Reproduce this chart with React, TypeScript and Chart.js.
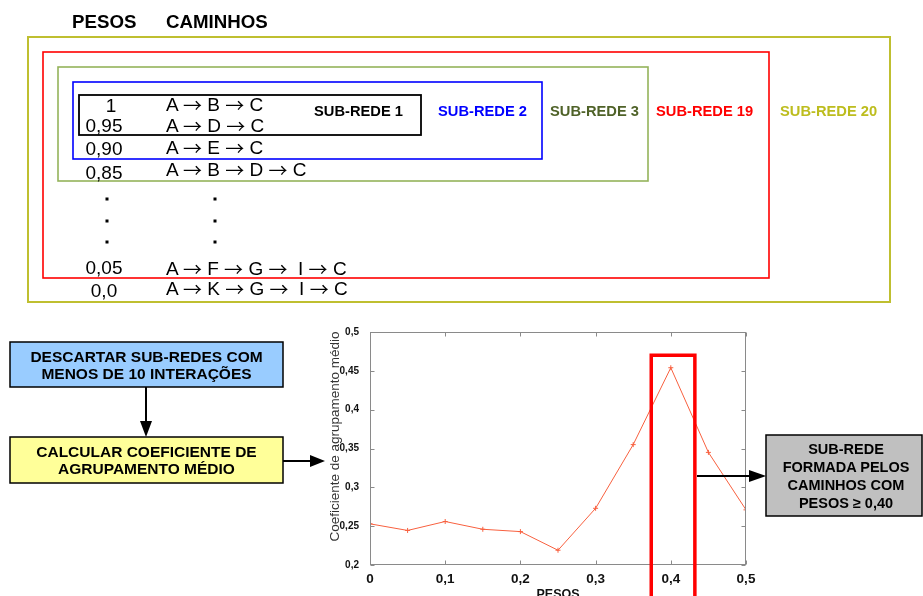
import React, { useEffect, useRef } from 'react';
import { Chart, registerables } from 'chart.js';

Chart.register(...registerables);

// ---------- data ----------
const pesos = [0, 0.05, 0.1, 0.15, 0.2, 0.25, 0.3, 0.35, 0.4, 0.45, 0.5];
const coeficiente = [0.253, 0.2445, 0.256, 0.246, 0.243, 0.219, 0.273, 0.355, 0.454, 0.345, 0.271];
const yMin = 0.2;
const yMax = 0.5;
const yStep = 0.05;
const xMin = 0;
const xMax = 0.5;
const xStep = 0.1;
const highlightFrom = 0.374;
const highlightTo = 0.432;
const highlightTop = 0.47;

const rowWeights = ['1', '0,95', '0,90', '0,85', '0,05', '0,0'];
const rowPaths = [
  'A \u2192 B \u2192 C',
  'A \u2192 D \u2192 C',
  'A \u2192 E \u2192 C',
  'A \u2192 B \u2192 D \u2192 C',
  'A \u2192 F \u2192 G \u2192  I \u2192 C',
  'A \u2192 K \u2192 G \u2192  I \u2192 C',
];
const subRedeLabels = ['SUB-REDE 1', 'SUB-REDE 2', 'SUB-REDE 3', 'SUB-REDE 19', 'SUB-REDE 20'];

const FONT = '"Liberation Sans", Arial, sans-serif';
const ARROW_FONT = '"Noto Sans CJK JP", "DejaVu Sans", sans-serif';

const fmt = (v: number) => String(Number(Number(v).toFixed(2))).replace('.', ',');

const framePlugin = {
  id: 'frame',
  afterDraw(chart: any) {
    const { ctx, chartArea: a, scales } = chart;
    const x = scales.x;
    const y = scales.y;
    ctx.save();
    ctx.strokeStyle = '#8a8a8a';
    ctx.lineWidth = 1;
    const L = Math.round(a.left) + 0.5;
    const R = Math.round(a.right) - 0.5;
    const T = Math.round(a.top) + 0.5;
    const B = Math.round(a.bottom) - 0.5;
    ctx.strokeRect(L, T, R - L, B - T);
    ctx.beginPath();
    y.ticks.forEach((t: any) => {
      const py = Math.round(y.getPixelForValue(t.value)) + 0.5;
      ctx.moveTo(L, py); ctx.lineTo(L + 4, py);
      ctx.moveTo(R, py); ctx.lineTo(R - 4, py);
    });
    x.ticks.forEach((t: any) => {
      const px = Math.round(x.getPixelForValue(t.value)) + 0.5;
      ctx.moveTo(px, B); ctx.lineTo(px, B - 4);
      ctx.moveTo(px, T); ctx.lineTo(px, T + 4);
    });
    ctx.stroke();

    // y axis title
    ctx.fillStyle = '#333';
    ctx.font = `13.5px ${FONT}`;
    ctx.textAlign = 'center';
    ctx.textBaseline = 'middle';
    ctx.translate(a.left - 35, (a.top + a.bottom) / 2 - 12);
    ctx.rotate(-Math.PI / 2);
    ctx.fillText('Coeficiente de agrupamento médio', 0, 0);
    ctx.restore();

    // highlight box
    ctx.save();
    ctx.strokeStyle = '#ff0000';
    ctx.lineWidth = 3.5;
    const x1 = x.getPixelForValue(highlightFrom);
    const x2 = x.getPixelForValue(highlightTo);
    const y1 = y.getPixelForValue(highlightTop);
    ctx.beginPath();
    ctx.moveTo(x1, chart.height + 10);
    ctx.lineTo(x1, y1);
    ctx.lineTo(x2, y1);
    ctx.lineTo(x2, chart.height + 10);
    ctx.stroke();
    ctx.restore();
  },
};

function LineChart() {
  const ref = useRef<HTMLCanvasElement | null>(null);
  useEffect(() => {
    if (!ref.current) return;
    const chart = new Chart(ref.current, {
      type: 'line',
      data: {
        datasets: [
          {
            data: pesos.map((p, i) => ({ x: p, y: coeficiente[i] })),
            borderColor: '#f8603f',
            borderWidth: 1,
            pointStyle: 'cross',
            pointRadius: 2.5,
            pointBorderColor: '#f8603f',
            pointBorderWidth: 1,
            tension: 0,
            fill: false,
          },
        ],
      },
      options: {
        animation: false,
        responsive: false,
        maintainAspectRatio: false,
        layout: { padding: { top: 10, right: 14, left: 0, bottom: 0 } },
        plugins: { legend: { display: false }, tooltip: { enabled: false } },
        scales: {
          x: {
            type: 'linear',
            min: xMin,
            max: xMax,
            grid: { display: false },
            border: { display: false },
            ticks: {
              stepSize: xStep,
              font: { family: FONT, size: 13.5, weight: 'bold' },
              color: '#111',
              padding: -2,
              maxRotation: 0,
              autoSkip: false,
              callback: (v: any) => fmt(v),
            },
            title: {
              display: true,
              text: 'PESOS',
              font: { family: FONT, size: 12.5, weight: 'bold' },
              color: '#111',
              padding: { top: 0, bottom: 10 },
            },
            afterFit: (s: any) => { s.height = 47; },
          },
          y: {
            min: yMin,
            max: yMax,
            grid: { display: false },
            border: { display: false },
            ticks: {
              stepSize: yStep,
              font: { family: FONT, size: 10, weight: 'bold' },
              color: '#111',
              padding: 3,
              callback: (v: any) => fmt(v),
            },
            afterFit: (s: any) => { s.width = 50; },
          },
        },
      } as any,
      plugins: [framePlugin],
    });
    return () => chart.destroy();
  }, []);
  return (
    <canvas
      ref={ref}
      width={440}
      height={290}
      style={{ position: 'absolute', left: 320, top: 322, width: 440, height: 290 }}
    />
  );
}

function PathText({ text, x, y }: { text: string; x: number; y: number }) {
  const parts = text.split('\u2192');
  const out: any[] = [];
  parts.forEach((p, i) => {
    if (i > 0) {
      out.push(
        <tspan key={'a' + i} fontFamily={ARROW_FONT} dy={2}>{'\u2192'}</tspan>
      );
    }
    out.push(<tspan key={'p' + i} dy={i > 0 ? -2 : 0}>{p}</tspan>);
  });
  return (
    <text x={x} y={y} fontSize={19} fontFamily={FONT} fill="#000" xmlSpace="preserve" style={{ whiteSpace: 'pre' }}>
      {out}
    </text>
  );
}

export default function App() {
  const weightX = [111, 104, 104, 104, 104, 104];
  const weightY = [112, 132, 155, 179, 274, 297];
  const pathY = [111, 132, 154, 176, 275, 295];
  const dotY = [199, 221, 242];
  const subX = [314, 438, 550, 656, 780];
  const subColors = ['#000000', '#0000ff', '#4f6228', '#ff0000', '#bdbd1e'];
  const boldText = { fontFamily: FONT, fontWeight: 'bold' as const };
  return (
    <div
      style={{
        position: 'absolute', left: 0, top: 0, width: 923, height: 596,
        overflow: 'hidden', background: '#fff',
      }}
    >
      <LineChart />
      <svg
        width={923}
        height={596}
        style={{ position: 'absolute', left: 0, top: 0, pointerEvents: 'none' }}
      >
        {/* headers */}
        <text x={72} y={28} fontSize={18.7} {...boldText} fill="#000">PESOS</text>
        <text x={166} y={28} fontSize={18.7} {...boldText} fill="#000">CAMINHOS</text>

        {/* nested boxes */}
        <rect x={28} y={37} width={862} height={265} fill="none" stroke="#bfbf30" strokeWidth={2} />
        <rect x={43} y={52} width={726} height={226} fill="none" stroke="#ff0000" strokeWidth={1.6} />
        <rect x={58} y={67} width={590} height={114} fill="none" stroke="#94b35a" strokeWidth={1.6} />
        <rect x={73} y={82} width={469} height={77} fill="none" stroke="#0000ff" strokeWidth={1.6} />
        <rect x={79} y={95} width={342} height={40} fill="none" stroke="#000" strokeWidth={1.8} />

        {subRedeLabels.map((s, i) => (
          <text key={s} x={subX[i]} y={115.5} fontSize={14.7} {...boldText} fill={subColors[i]}>{s}</text>
        ))}

        {rowWeights.map((w, i) => (
          <text key={w} x={weightX[i]} y={weightY[i]} fontSize={19} fontFamily={FONT} textAnchor="middle" fill="#000">{w}</text>
        ))}
        {rowPaths.map((p, i) => (
          <PathText key={p} text={p} x={166} y={pathY[i]} />
        ))}
        {dotY.map((d) => (
          <g key={d}>
            <rect x={105.5} y={d - 1.5} width={3} height={3} fill="#000" />
            <rect x={213.5} y={d - 1.5} width={3} height={3} fill="#000" />
          </g>
        ))}

        {/* flow boxes */}
        <rect x={10} y={342} width={273} height={45} fill="#99ccff" stroke="#000" strokeWidth={1.5} />
        <text x={146.5} y={361.5} fontSize={15.5} {...boldText} textAnchor="middle" fill="#000">DESCARTAR SUB-REDES COM</text>
        <text x={146.5} y={378.5} fontSize={15.5} {...boldText} textAnchor="middle" fill="#000">MENOS DE 10 INTERAÇÕES</text>

        <line x1={146} y1={387} x2={146} y2={424} stroke="#000" strokeWidth={2} />
        <polygon points="140,421 152,421 146,437" fill="#000" />

        <rect x={10} y={437} width={273} height={46} fill="#ffff99" stroke="#000" strokeWidth={1.5} />
        <text x={146.5} y={456.7} fontSize={15.5} {...boldText} textAnchor="middle" fill="#000">CALCULAR COEFICIENTE DE</text>
        <text x={146.5} y={474.3} fontSize={15.5} {...boldText} textAnchor="middle" fill="#000">AGRUPAMENTO MÉDIO</text>

        <line x1={283} y1={461} x2={312} y2={461} stroke="#000" strokeWidth={2} />
        <polygon points="310,455 310,467 325,461" fill="#000" />

        <line x1={697} y1={476} x2={752} y2={476} stroke="#000" strokeWidth={2} />
        <polygon points="749,470 749,482 766,476" fill="#000" />

        <rect x={766} y={435} width={156} height={81} fill="#c0c0c0" stroke="#000" strokeWidth={1.5} />
        <text x={846} y={454} fontSize={14.5} {...boldText} textAnchor="middle" fill="#000">SUB-REDE</text>
        <text x={846} y={472} fontSize={14.5} {...boldText} textAnchor="middle" fill="#000">FORMADA PELOS</text>
        <text x={846} y={490} fontSize={14.5} {...boldText} textAnchor="middle" fill="#000">CAMINHOS COM</text>
        <text x={846} y={507.5} fontSize={14.5} {...boldText} textAnchor="middle" fill="#000">PESOS ≥ 0,40</text>
      </svg>
    </div>
  );
}
